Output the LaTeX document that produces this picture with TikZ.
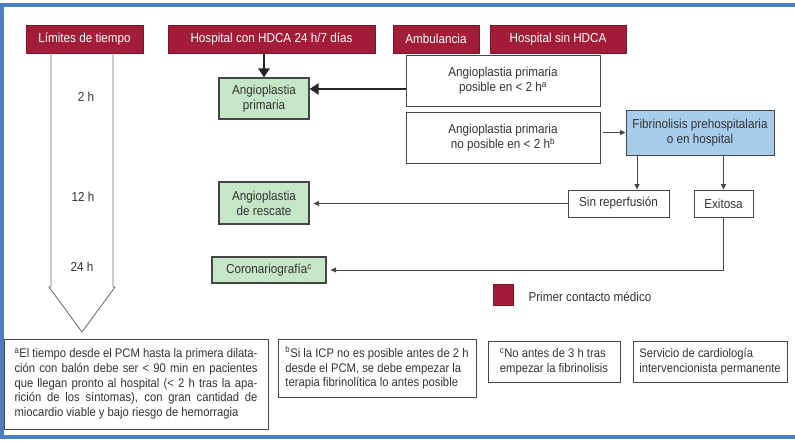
\documentclass[tikz,border=0pt]{standalone}
\usepackage{fontspec}
\setmainfont[FakeStretch=0.9]{Liberation Sans}
\usetikzlibrary{arrows.meta}
\definecolor{hdr}{HTML}{A31D38}
\definecolor{grn}{HTML}{C6E6C8}
\definecolor{blu}{HTML}{A8CCEC}
\definecolor{framecol}{HTML}{4A7EBE}
\definecolor{ink}{HTML}{333333}
\definecolor{edgecol}{HTML}{454545}

\begin{document}
\begin{tikzpicture}[x=1pt,y=-1pt,
  every node/.style={font=\fontsize{13}{15}\selectfont, text=ink, inner sep=0pt},
  header/.style={fill=hdr, draw=hdr!75!black, line width=0.8pt, text=white, minimum height=28pt},
  greenbox/.style={fill=grn, draw=edgecol, line width=1.2pt, align=center},
  plainbox/.style={fill=white, draw=edgecol, line width=1pt, align=center},
  bluebox/.style={fill=blu, draw=edgecol, line width=1pt, align=center},
  notebox/.style={draw=edgecol, line width=1pt, align=left, font=\fontsize{12.5}{14.75}\selectfont},
  link/.style={draw=edgecol, line width=0.9pt, -{Triangle[length=5.5pt,width=5pt]}},
  boldlink/.style={draw=black!85, line width=2.6pt, -{Triangle[length=9pt,width=11pt]}},
  timeline/.style={draw=black!55, line width=0.9pt},
]
\useasboundingbox (0,0) rectangle (795,442);
\fill[white] (0,0) rectangle (795,442);

% outer frame
\draw[framecol, line width=4.5pt] (800,5) -- (2,5) -- (2,437) -- (800,437);

% column headers
\node[header, minimum width=117pt] (lim)  at (84.5,39)  {Límites de tiempo};
\node[header, minimum width=207pt] (hcon) at (271.5,39) {Hospital con HDCA 24 h/7 días};
\node[header, minimum width=86pt]  (amb)  at (436,39)   {Ambulancia};
\node[header, minimum width=136pt] (hsin) at (558,39)   {Hospital sin HDCA};

% time scale
\draw[timeline] (51,53) -- (51,287) -- (49,287) -- (82,332) -- (115,287) -- (113,287) -- (113,53);
\node (t2)  at (86,97)  {2 h};
\node (t12) at (83,197) {12 h};
\node (t24) at (82,267) {24 h};

% treatment boxes
\node[greenbox, minimum width=90pt, minimum height=41pt]  (ap)  at (264,98.5) {Angioplastia\\primaria};
\node[greenbox, minimum width=90pt, minimum height=42pt]  (ar)  at (264,203)  {Angioplastia\\de rescate};
\node[greenbox, minimum width=114pt, minimum height=26pt] (cor) at (269,270)  {Coronariografía\textsuperscript{c}};

\node[plainbox, minimum width=194pt, minimum height=51pt] (pos)  at (503,80.5)  {Angioplastia primaria\\posible en < 2 h\textsuperscript{a}};
\node[plainbox, minimum width=194pt, minimum height=51pt] (npos) at (503,137.5) {Angioplastia primaria\\no posible en < 2 h\textsuperscript{b}};
\node[bluebox, minimum width=148pt, minimum height=45pt]  (fib)  at (700,132.5) {Fibrinolisis prehospitalaria\\o en hospital};
\node[plainbox, minimum width=101pt, minimum height=27pt] (sin)  at (618.5,203.5) {Sin reperfusión};
\node[plainbox, minimum width=59pt, minimum height=27pt]  (exi)  at (723.5,203.5) {Exitosa};

% connectors
\draw[boldlink] (hcon.south -| ap.north) -- (ap.north);
\draw[boldlink] ([yshift=-8.5pt]pos.west) -- ([yshift=-8.5pt]pos.west -| ap.east);
\draw[link, shorten <=2pt] (npos.east |- fib.west) -- (fib.west);
\draw[link] ([xshift=18.5pt]sin.north |- fib.south) -- ([xshift=18.5pt]sin.north);
\draw[link] (fib.south -| exi.north) -- (exi.north);
\draw[link, shorten >=4pt] (sin.west) -- (sin.west -| ar.east);
\draw[link, shorten >=4pt] (exi.south) |- (cor.east);

% legend
\node[fill=hdr, draw=hdr!75!black, line width=0.6pt, minimum width=20pt, minimum height=21pt] (leg) at (503,294.5) {};
\node[anchor=west] (legt) at ([xshift=15pt,yshift=-2.5pt]leg.east) {Primer contacto médico};

% footnotes
\node[notebox, minimum width=264pt, minimum height=90pt] (na) at (136,384) {%
\makebox[243pt][s]{\textsuperscript{a}El tiempo desde el PCM hasta la primera dilata-}\\
\makebox[243pt][s]{ción con balón debe ser < 90 min en pacientes}\\
\makebox[243pt][s]{que llegan pronto al hospital (< 2 h tras la apa-}\\
\makebox[243pt][s]{rición de los síntomas), con gran cantidad de}\\
miocardio viable y bajo riesgo de hemorragia};
\node[notebox, minimum width=198pt, minimum height=58pt] (nb) at (377,368) {%
\textsuperscript{b}Si la ICP no es posible antes de 2 h\\
desde el PCM, se debe empezar la\\
terapia fibrinolítica lo antes posible};
\node[notebox, minimum width=132pt, minimum height=41pt] (nc) at (554,361.5) {%
\textsuperscript{c}No antes de 3 h tras\\empezar la fibrinolisis};
\node[notebox, minimum width=154pt, minimum height=41pt] (nd) at (710,361.5) {%
Servicio de cardiología\\intervencionista permanente};
\end{tikzpicture}
\end{document}
